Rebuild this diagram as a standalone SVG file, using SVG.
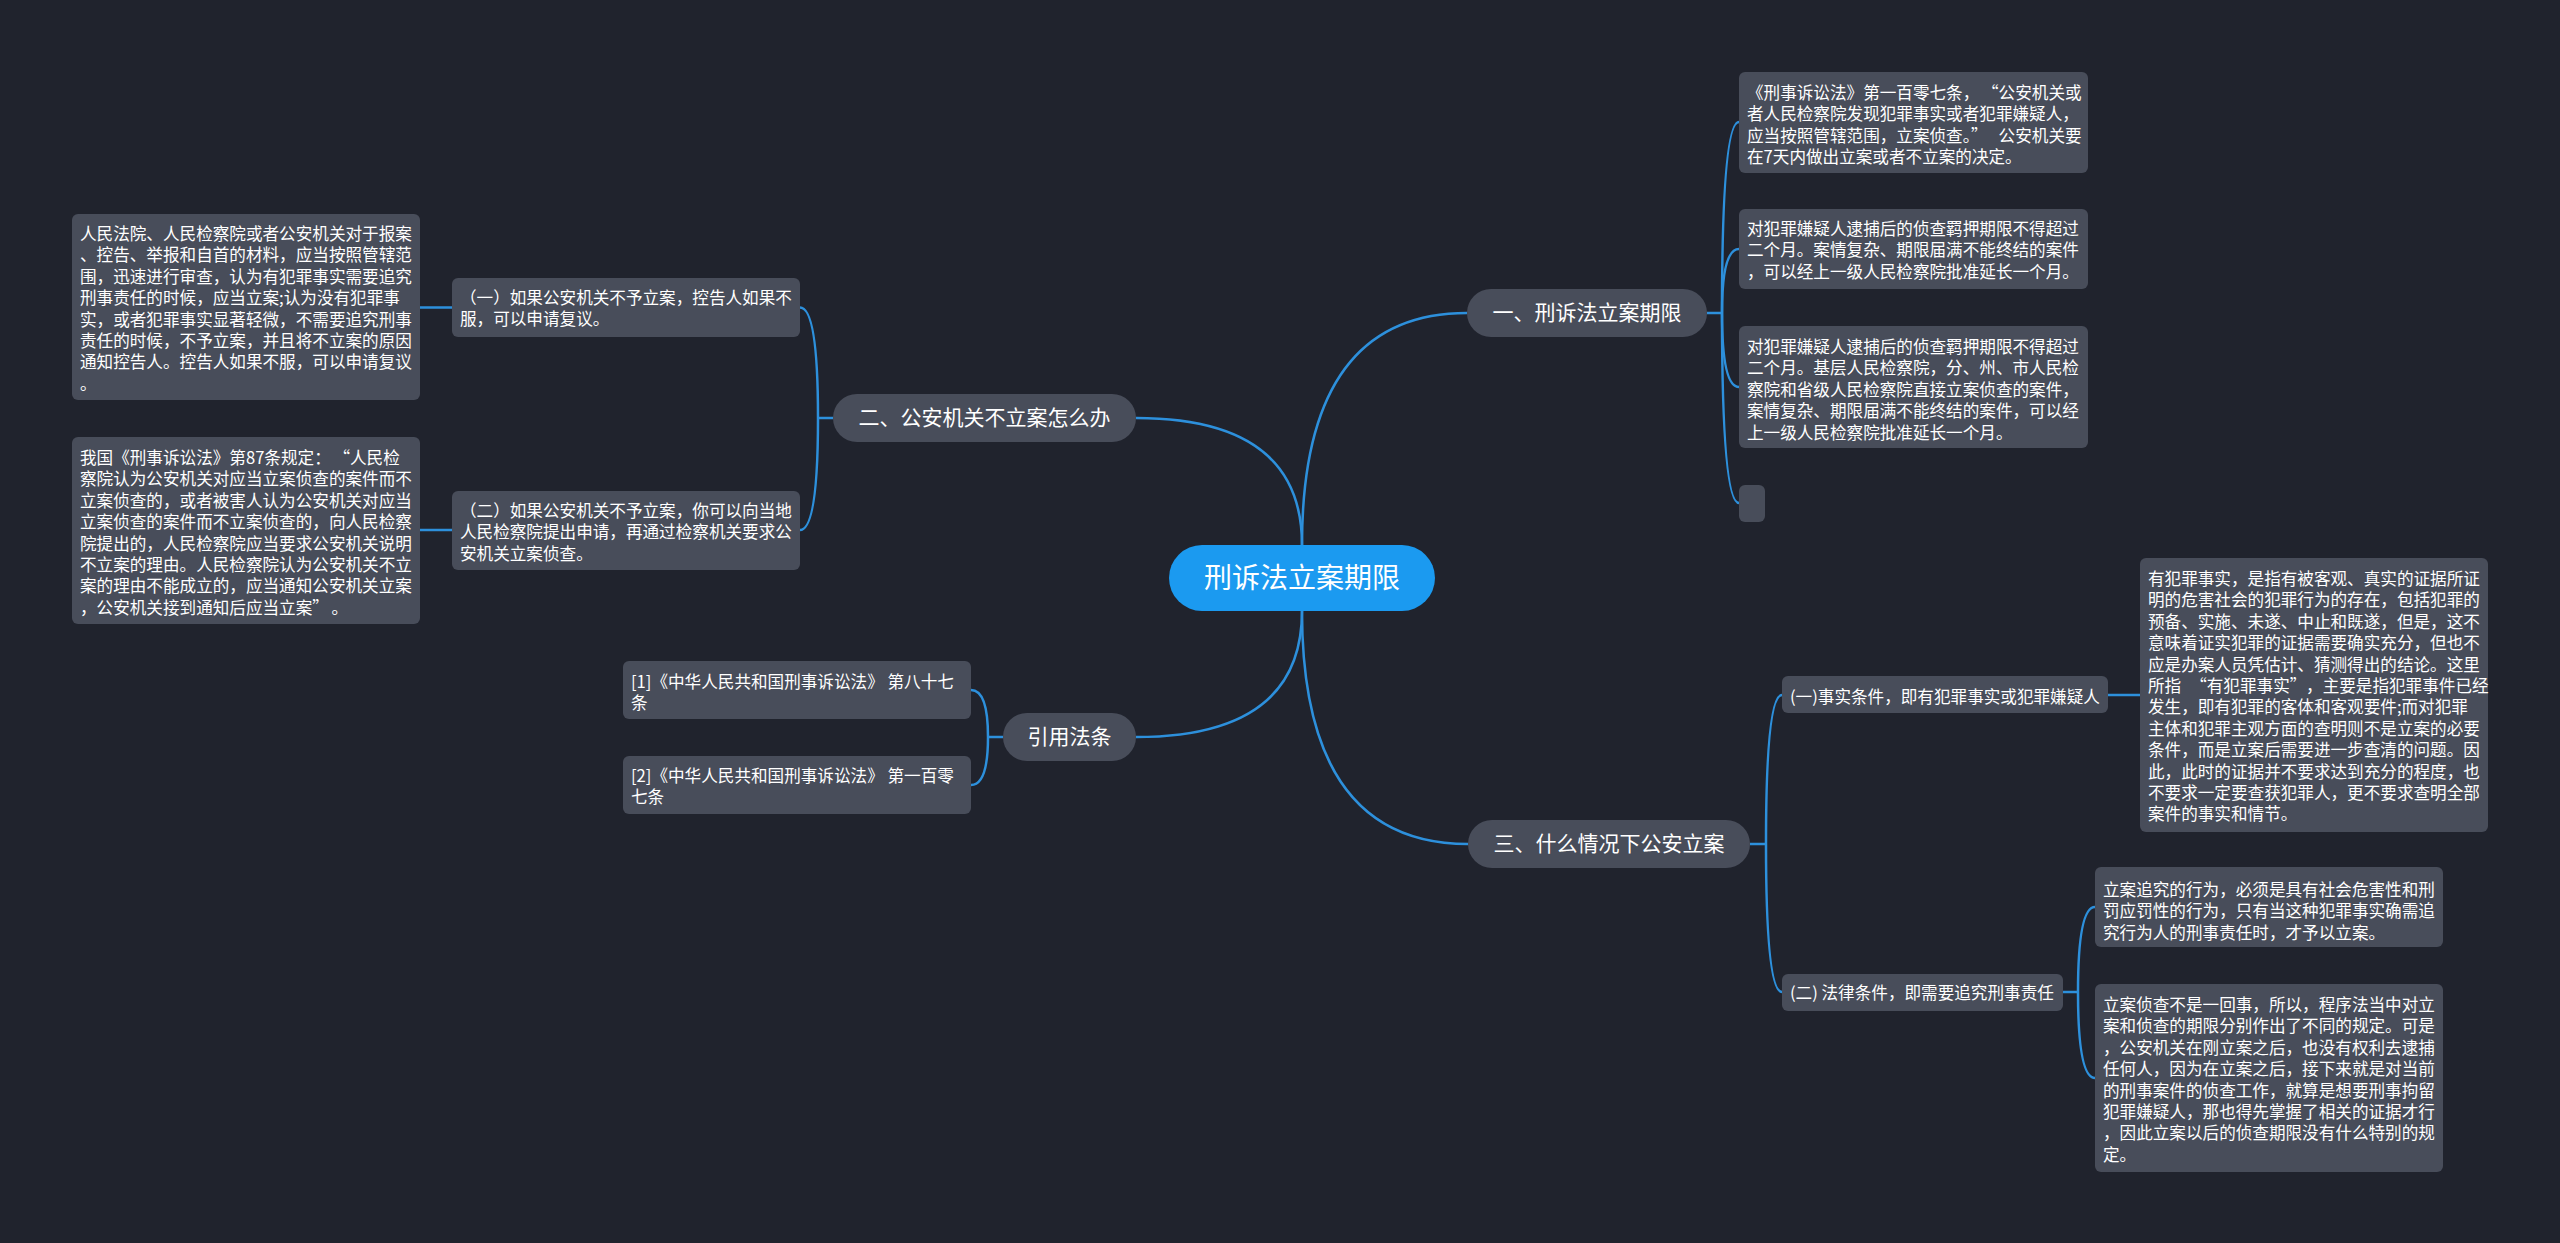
<svg xmlns="http://www.w3.org/2000/svg" width="2560" height="1243" viewBox="0 0 2560 1243" xml:lang="zh-CN" lang="zh-CN">
<style>
.bg{fill:#20232d}
.main{fill:#484d5a}
.leaf{fill:#484d5a}
.root{fill:#1b9af0}
.c{fill:none;stroke:#2d90dc;stroke-width:2.5}
text{font-family:"Noto Sans CJK SC","Noto Sans",sans-serif;fill:#ffffff}
.lt{font-size:16.6px}
.mt{font-size:21px}
.rt{font-size:28px}
</style>
<rect class="bg" x="0" y="0" width="2560" height="1243"/>
<g id="connectors">
<path class="c" d="M1302 545 Q1302 313 1467 313"/>
<path class="c" d="M1302 545 Q1302 418 1136 418"/>
<path class="c" d="M1302 611 Q1302 844 1468 844"/>
<path class="c" d="M1302 611 Q1302 737 1136 737"/>
<path class="c" d="M1707 313 H1722"/>
<path class="c" d="M1722 313 Q1722 122 1739 122"/>
<path class="c" d="M1722 313 Q1722 249 1739 249"/>
<path class="c" d="M1722 313 Q1722 387 1739 387"/>
<path class="c" d="M1722 313 Q1722 503 1739 503"/>
<path class="c" d="M833 418 H818"/>
<path class="c" d="M818 418 Q818 307.5 800 307.5"/>
<path class="c" d="M818 418 Q818 530 800 530"/>
<path class="c" d="M452 307.5 H420"/>
<path class="c" d="M452 530 H420"/>
<path class="c" d="M1003 737 H988"/>
<path class="c" d="M988 737 Q988 690 971 690"/>
<path class="c" d="M988 737 Q988 785 971 785"/>
<path class="c" d="M1750 844 H1766"/>
<path class="c" d="M1766 844 Q1766 695 1782 695"/>
<path class="c" d="M1766 844 Q1766 992 1782 992"/>
<path class="c" d="M2108 695 H2140"/>
<path class="c" d="M2063 992 H2078"/>
<path class="c" d="M2078 992 Q2078 907 2095 907"/>
<path class="c" d="M2078 992 Q2078 1078 2095 1078"/>
</g>
<g id="root">
<rect class="root" x="1169" y="545" width="266" height="66" rx="33"/>
<text class="rt" x="1302" y="588" text-anchor="middle">刑诉法立案期限</text>
</g>
<g id="n1">
<rect class="main" x="1467" y="289" width="240" height="48" rx="24"/>
<text class="mt" x="1587" y="320" text-anchor="middle">一、刑诉法立案期限</text>
</g>
<g id="n1a">
<rect class="leaf" x="1739" y="72" width="349" height="101" rx="6"/>
<text class="lt"><tspan x="1747" y="99">《刑事诉讼法》第一百零七条，<tspan dx="11">“</tspan>公安机关或</tspan><tspan x="1747" y="120.4">者人民检察院发现犯罪事实或者犯罪嫌疑人，</tspan><tspan x="1747" y="141.8">应当按照管辖范围，立案侦查。”<tspan dx="11">公</tspan>安机关要</tspan><tspan x="1747" y="163.2">在7天内做出立案或者不立案的决定。</tspan></text>
</g>
<g id="n1b">
<rect class="leaf" x="1739" y="209" width="349" height="80" rx="6"/>
<text class="lt"><tspan x="1747" y="235">对犯罪嫌疑人逮捕后的侦查羁押期限不得超过</tspan><tspan x="1747" y="256.4">二个月。案情复杂、期限届满不能终结的案件</tspan><tspan x="1747" y="277.8">，可以经上一级人民检察院批准延长一个月。</tspan></text>
</g>
<g id="n1c">
<rect class="leaf" x="1739" y="326" width="349" height="122" rx="6"/>
<text class="lt"><tspan x="1747" y="353">对犯罪嫌疑人逮捕后的侦查羁押期限不得超过</tspan><tspan x="1747" y="374.4">二个月。基层人民检察院，分、州、市人民检</tspan><tspan x="1747" y="395.8">察院和省级人民检察院直接立案侦查的案件，</tspan><tspan x="1747" y="417.2">案情复杂、期限届满不能终结的案件，可以经</tspan><tspan x="1747" y="438.6">上一级人民检察院批准延长一个月。</tspan></text>
</g>
<g id="n1d">
<rect class="leaf" x="1739" y="485" width="26" height="37" rx="6"/>
</g>
<g id="n2">
<rect class="main" x="833" y="394" width="303" height="48" rx="24"/>
<text class="mt" x="984.5" y="425" text-anchor="middle">二、公安机关不立案怎么办</text>
</g>
<g id="n2a">
<rect class="leaf" x="452" y="278" width="348" height="59" rx="6"/>
<text class="lt"><tspan x="460" y="304">（一）如果公安机关不予立案，控告人如果不</tspan><tspan x="460" y="325.4">服，可以申请复议。</tspan></text>
</g>
<g id="n2a1">
<rect class="leaf" x="72" y="214" width="348" height="186" rx="6"/>
<text class="lt"><tspan x="80" y="240">人民法院、人民检察院或者公安机关对于报案</tspan><tspan x="80" y="261.4">、控告、举报和自首的材料，应当按照管辖范</tspan><tspan x="80" y="282.8">围，迅速进行审查，认为有犯罪事实需要追究</tspan><tspan x="80" y="304.2">刑事责任的时候，应当立案;认为没有犯罪事</tspan><tspan x="80" y="325.6">实，或者犯罪事实显著轻微，不需要追究刑事</tspan><tspan x="80" y="347">责任的时候，不予立案，并且将不立案的原因</tspan><tspan x="80" y="368.4">通知控告人。控告人如果不服，可以申请复议</tspan><tspan x="80" y="389.8">。</tspan></text>
</g>
<g id="n2b">
<rect class="leaf" x="452" y="491" width="348" height="79" rx="6"/>
<text class="lt"><tspan x="460" y="517">（二）如果公安机关不予立案，你可以向当地</tspan><tspan x="460" y="538.4">人民检察院提出申请，再通过检察机关要求公</tspan><tspan x="460" y="559.8">安机关立案侦查。</tspan></text>
</g>
<g id="n2b1">
<rect class="leaf" x="72" y="437" width="348" height="187" rx="6"/>
<text class="lt"><tspan x="80" y="464">我国《刑事诉讼法》第87条规定：<tspan dx="11">“</tspan>人民检</tspan><tspan x="80" y="485.4">察院认为公安机关对应当立案侦查的案件而不</tspan><tspan x="80" y="506.8">立案侦查的，或者被害人认为公安机关对应当</tspan><tspan x="80" y="528.2">立案侦查的案件而不立案侦查的，向人民检察</tspan><tspan x="80" y="549.6">院提出的，人民检察院应当要求公安机关说明</tspan><tspan x="80" y="571">不立案的理由。人民检察院认为公安机关不立</tspan><tspan x="80" y="592.4">案的理由不能成立的，应当通知公安机关立案</tspan><tspan x="80" y="613.8">，公安机关接到通知后应当立案”<tspan dx="11">。</tspan></tspan></text>
</g>
<g id="n4">
<rect class="main" x="1003" y="713" width="133" height="48" rx="24"/>
<text class="mt" x="1069.5" y="744" text-anchor="middle">引用法条</text>
</g>
<g id="n4a">
<rect class="leaf" x="623" y="661" width="348" height="58" rx="6"/>
<text class="lt"><tspan x="631" y="688">[1]《中华人民共和国刑事诉讼法》 第八十七</tspan><tspan x="631" y="709.4">条</tspan></text>
</g>
<g id="n4b">
<rect class="leaf" x="623" y="756" width="348" height="58" rx="6"/>
<text class="lt"><tspan x="631" y="782">[2]《中华人民共和国刑事诉讼法》 第一百零</tspan><tspan x="631" y="803.4">七条</tspan></text>
</g>
<g id="n3">
<rect class="main" x="1468" y="820" width="282" height="48" rx="24"/>
<text class="mt" x="1609" y="851" text-anchor="middle">三、什么情况下公安立案</text>
</g>
<g id="n3a">
<rect class="leaf" x="1782" y="676" width="326" height="37" rx="6"/>
<text class="lt" x="1790" y="703">(一)事实条件，即有犯罪事实或犯罪嫌疑人</text>
</g>
<g id="n3a1">
<rect class="leaf" x="2140" y="558" width="348" height="274" rx="6"/>
<text class="lt"><tspan x="2148" y="585">有犯罪事实，是指有被客观、真实的证据所证</tspan><tspan x="2148" y="606.4">明的危害社会的犯罪行为的存在，包括犯罪的</tspan><tspan x="2148" y="627.8">预备、实施、未遂、中止和既遂，但是，这不</tspan><tspan x="2148" y="649.2">意味着证实犯罪的证据需要确实充分，但也不</tspan><tspan x="2148" y="670.6">应是办案人员凭估计、猜测得出的结论。这里</tspan><tspan x="2148" y="692">所指<tspan dx="9">“</tspan>有犯罪事实”<tspan dx="8">，</tspan>主要是指犯罪事件已经</tspan><tspan x="2148" y="713.4">发生，即有犯罪的客体和客观要件;而对犯罪</tspan><tspan x="2148" y="734.8">主体和犯罪主观方面的查明则不是立案的必要</tspan><tspan x="2148" y="756.2">条件，而是立案后需要进一步查清的问题。因</tspan><tspan x="2148" y="777.6">此，此时的证据并不要求达到充分的程度，也</tspan><tspan x="2148" y="799">不要求一定要查获犯罪人，更不要求查明全部</tspan><tspan x="2148" y="820.4">案件的事实和情节。</tspan></text>
</g>
<g id="n3b">
<rect class="leaf" x="1782" y="974" width="281" height="37" rx="6"/>
<text class="lt" x="1790" y="999">(二) 法律条件，即需要追究刑事责任</text>
</g>
<g id="n3b1">
<rect class="leaf" x="2095" y="867" width="348" height="80" rx="6"/>
<text class="lt"><tspan x="2103" y="896">立案追究的行为，必须是具有社会危害性和刑</tspan><tspan x="2103" y="917.4">罚应罚性的行为，只有当这种犯罪事实确需追</tspan><tspan x="2103" y="938.8">究行为人的刑事责任时，才予以立案。</tspan></text>
</g>
<g id="n3b2">
<rect class="leaf" x="2095" y="984" width="348" height="188" rx="6"/>
<text class="lt"><tspan x="2103" y="1011">立案侦查不是一回事，所以，程序法当中对立</tspan><tspan x="2103" y="1032.4">案和侦查的期限分别作出了不同的规定。可是</tspan><tspan x="2103" y="1053.8">，公安机关在刚立案之后，也没有权利去逮捕</tspan><tspan x="2103" y="1075.2">任何人，因为在立案之后，接下来就是对当前</tspan><tspan x="2103" y="1096.6">的刑事案件的侦查工作，就算是想要刑事拘留</tspan><tspan x="2103" y="1118">犯罪嫌疑人，那也得先掌握了相关的证据才行</tspan><tspan x="2103" y="1139.4">，因此立案以后的侦查期限没有什么特别的规</tspan><tspan x="2103" y="1160.8">定。</tspan></text>
</g>
</svg>
